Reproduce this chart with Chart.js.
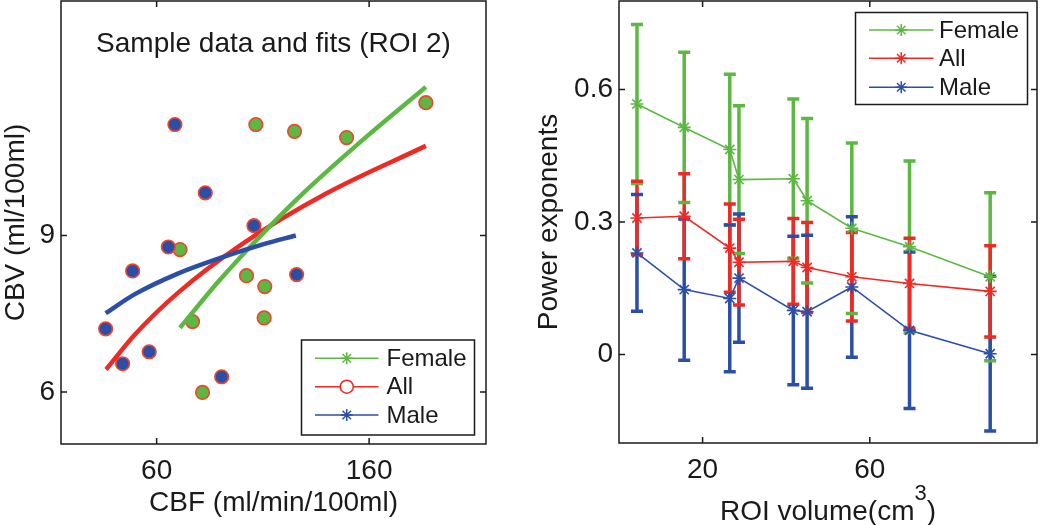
<!DOCTYPE html>
<html>
<head>
<meta charset="utf-8">
<script src="https://cdn.jsdelivr.net/npm/chart.js@4.4.1/dist/chart.umd.min.js"></script>
<style>
  html, body { margin: 0; padding: 0; background: #fff; }
  #wrap { position: relative; width: 1050px; height: 525px; overflow: hidden; }
  canvas { position: absolute; top: 0; }
</style>
</head>
<body>
<div id="wrap">
  <canvas id="fitChart" width="520" height="525" style="left:0"></canvas>
  <canvas id="expChart" width="530" height="525" style="left:520px"></canvas>
</div>
<script>
// ── LEFT PANEL DATA: CBF vs CBV (ROI 2) ──
const cbfFemale = [106.7, 124.9, 149.4, 186.7, 71.0, 102.3, 110.9, 110.6, 76.9, 81.6];
const cbvFemale = [11.13, 11.0, 10.88, 11.55, 8.73, 8.23, 8.02, 7.42, 7.35, 5.99];
const cbfMale   = [68.6, 82.9, 105.8, 65.5, 48.7, 125.9, 36.0, 56.5, 44.0, 90.6];
const cbvMale   = [11.13, 9.82, 9.19, 8.78, 8.32, 8.25, 7.21, 6.77, 6.54, 6.29];

// fit curves
const fitFemaleX = [71, 90, 110, 130, 160, 186.7];
const fitFemaleY = [7.23, 8.16, 9.04, 9.85, 10.94, 11.85];
const fitAllX    = [36.2, 50, 70, 100, 140, 186.7];
const fitAllY    = [6.43, 7.11, 7.90, 8.83, 9.81, 10.72];
const fitMaleX   = [36, 50, 70, 90, 110, 125.5];
const fitMaleY   = [7.51, 7.88, 8.27, 8.57, 8.83, 9.0];

const leftXTicks = [60, 160];
const leftYTicks = [6, 9];

// ── RIGHT PANEL DATA: power exponents vs ROI volume ──
const roiVolume = [4.3, 15.6, 26.5, 28.7, 41.7, 45.0, 55.7, 69.5, 88.8];
const expFemale = [0.567, 0.514, 0.464, 0.396, 0.398, 0.348, 0.286, 0.244, 0.176];
const errFemale = [0.18, 0.17, 0.17, 0.167, 0.18, 0.186, 0.193, 0.194, 0.19];
const expAll    = [0.309, 0.313, 0.241, 0.209, 0.211, 0.197, 0.176, 0.161, 0.143];
const errAll    = [0.083, 0.096, 0.10, 0.097, 0.097, 0.102, 0.10, 0.102, 0.103];
const expMale   = [0.230, 0.147, 0.127, 0.173, 0.100, 0.097, 0.153, 0.055, 0.002];
const errMale   = [0.132, 0.16, 0.166, 0.145, 0.168, 0.173, 0.159, 0.177, 0.175];

const rightXTicks = [20, 60];
const rightYTicks = [0, 0.3, 0.6];

const GREEN = '#5cb843';
const RED   = '#ee2a24';
const BLUE  = '#2b4ea6';
const INK   = '#1a1a1a';
const FONT  = '"Liberation Sans", Arial, Helvetica, sans-serif';

const pairs = (xs, ys) => xs.map((x, i) => ({ x: x, y: ys[i] }));

// ── SHARED DRAW HELPERS ──
function drawStar(ctx, x, y, r, color, lw) {
  ctx.save();
  ctx.strokeStyle = color;
  ctx.lineWidth = lw;
  ctx.beginPath();
  for (let k = 0; k < 4; k++) {
    const a = k * Math.PI / 4;
    ctx.moveTo(x - r * Math.cos(a), y - r * Math.sin(a));
    ctx.lineTo(x + r * Math.cos(a), y + r * Math.sin(a));
  }
  ctx.stroke();
  ctx.restore();
}

function drawLegend(ctx, box, items) {
  ctx.save();
  ctx.fillStyle = '#fff';
  ctx.fillRect(box.x, box.y, box.w, box.h);
  ctx.strokeStyle = INK;
  ctx.lineWidth = 1.5;
  ctx.strokeRect(box.x, box.y, box.w, box.h);
  ctx.font = '24px ' + FONT;
  ctx.textBaseline = 'middle';
  ctx.textAlign = 'left';
  items.forEach((it, i) => {
    const y = box.rows[i];
    ctx.strokeStyle = it.color;
    ctx.lineWidth = 1.5;
    ctx.beginPath();
    ctx.moveTo(box.lineFrom, y);
    ctx.lineTo(box.lineTo, y);
    ctx.stroke();
    const mx = (box.lineFrom + box.lineTo) / 2;
    if (it.marker === 'circle') {
      ctx.fillStyle = '#fff';
      ctx.beginPath();
      ctx.arc(mx, y, 6.5, 0, Math.PI * 2);
      ctx.fill();
      ctx.stroke();
    } else {
      drawStar(ctx, mx, y, 6, it.color, 1.5);
    }
    ctx.fillStyle = INK;
    ctx.fillText(it.label, box.textX, y + 1);
  });
  ctx.restore();
}

// box, inward tick marks and axis titles, Matlab style
function framePlugin(cfg) {
  return {
    id: 'frame_' + cfg.name,
    afterDraw(chart) {
      const { ctx, chartArea: a, scales } = chart;
      ctx.save();
      ctx.strokeStyle = INK;
      ctx.lineWidth = 1.5;
      ctx.strokeRect(a.left, a.top, a.right - a.left, a.bottom - a.top);
      ctx.beginPath();
      scales.x.ticks.forEach(t => {
        const px = scales.x.getPixelForValue(t.value);
        ctx.moveTo(px, a.bottom); ctx.lineTo(px, a.bottom - 6);
        ctx.moveTo(px, a.top);    ctx.lineTo(px, a.top + 6);
      });
      scales.y.ticks.forEach(t => {
        const py = scales.y.getPixelForValue(t.value);
        ctx.moveTo(a.left, py);  ctx.lineTo(a.left + 6, py);
        ctx.moveTo(a.right, py); ctx.lineTo(a.right - 6, py);
      });
      ctx.stroke();

      ctx.fillStyle = INK;
      ctx.font = '28px ' + FONT;
      ctx.textBaseline = 'alphabetic';

      // y title, rotated
      ctx.save();
      ctx.translate(cfg.yTitleX, (a.top + a.bottom) / 2);
      ctx.rotate(-Math.PI / 2);
      ctx.textAlign = 'center';
      ctx.fillText(cfg.yTitle, 0, 0);
      ctx.restore();

      // x title (optional superscript)
      const cx = (a.left + a.right) / 2;
      if (cfg.xSup) {
        ctx.font = '28px ' + FONT;
        const w1 = ctx.measureText(cfg.xTitle).width;
        const w3 = ctx.measureText(cfg.xTail).width;
        ctx.font = '22px ' + FONT;
        const w2 = ctx.measureText(cfg.xSup).width;
        let x0 = cx - (w1 + w2 + w3) / 2;
        ctx.textAlign = 'left';
        ctx.font = '28px ' + FONT;
        ctx.fillText(cfg.xTitle, x0, cfg.xTitleY);
        ctx.font = '22px ' + FONT;
        ctx.fillText(cfg.xSup, x0 + w1, cfg.xTitleY - 20);
        ctx.font = '28px ' + FONT;
        ctx.fillText(cfg.xTail, x0 + w1 + w2, cfg.xTitleY);
      } else {
        ctx.textAlign = 'center';
        ctx.fillText(cfg.xTitle, cx, cfg.xTitleY);
      }

      if (cfg.title) {
        ctx.textAlign = 'center';
        ctx.font = '28px ' + FONT;
        ctx.fillText(cfg.title, cx, cfg.titleY);
      }
      ctx.restore();

      if (cfg.legend) drawLegend(ctx, cfg.legend.box, cfg.legend.items);
    }
  };
}

function axes(xMin, xMax, xTicks, yMin, yMax, yTicks, yWidth, xHeight) {
  const tickFont = { family: FONT, size: 28 };
  return {
    x: {
      type: 'linear', min: xMin, max: xMax,
      afterBuildTicks: s => { s.ticks = xTicks.map(v => ({ value: v })); },
      afterFit: s => { s.height = xHeight; s.paddingLeft = 0; s.paddingRight = 0; },
      grid: { display: false, drawTicks: false },
      border: { display: false },
      ticks: { color: INK, font: tickFont, padding: 10, maxRotation: 0, callback: v => String(v) }
    },
    y: {
      type: 'linear', min: yMin, max: yMax,
      afterBuildTicks: s => { s.ticks = yTicks.map(v => ({ value: v })); },
      afterFit: s => { s.width = yWidth; s.paddingTop = 0; s.paddingBottom = 0; },
      grid: { display: false, drawTicks: false },
      border: { display: false },
      ticks: { color: INK, font: tickFont, padding: 6, callback: v => String(v) }
    }
  };
}

// ── LEFT: SAMPLE DATA AND FITS ──
function initFitChart() {
  const ctx = document.getElementById('fitChart');

  const fitLine = (data, color, order) => ({
    type: 'line', data: data, borderColor: color, borderWidth: 4.5,
    pointRadius: 0, cubicInterpolationMode: 'monotone', fill: false, order: order
  });
  const dots = (data, color, order) => ({
    type: 'line', data: data, showLine: false,
    pointStyle: 'circle', pointRadius: 6.8, pointHoverRadius: 6.8,
    pointBackgroundColor: color, pointBorderColor: '#f0452c', pointBorderWidth: 1.6,
    order: order
  });

  new Chart(ctx, {
    type: 'line',
    data: {
      datasets: [
        fitLine(pairs(fitFemaleX, fitFemaleY), GREEN, 1),
        fitLine(pairs(fitAllX, fitAllY), RED, 2),
        fitLine(pairs(fitMaleX, fitMaleY), BLUE, 0),
        dots(pairs(cbfFemale, cbvFemale), GREEN, 5),
        dots(pairs(cbfMale, cbvMale), BLUE, 4)
      ]
    },
    options: {
      responsive: false, animation: false, devicePixelRatio: 1,
      layout: { autoPadding: false, padding: { left: 0, right: 34, top: 1, bottom: 0 } },
      plugins: { legend: { display: false }, tooltip: { enabled: false } },
      scales: axes(15, 215, leftXTicks, 5, 13.5, leftYTicks, 61, 81)
    },
    plugins: [framePlugin({
      name: 'fit',
      yTitle: 'CBV (ml/100ml)', yTitleX: 24,
      xTitle: 'CBF (ml/min/100ml)', xTitleY: 511,
      title: 'Sample data and fits (ROI 2)', titleY: 52,
      legend: {
        box: { x: 301.5, y: 340, w: 173, h: 95, rows: [358.3, 386.7, 415], lineFrom: 315, lineTo: 378.5, textX: 386.5 },
        items: [
          { label: 'Female', color: GREEN, marker: 'star' },
          { label: 'All', color: RED, marker: 'circle' },
          { label: 'Male', color: BLUE, marker: 'star' }
        ]
      }
    })]
  });
}

// ── RIGHT: POWER EXPONENTS WITH ERROR BARS ──
const errorBarPlugin = {
  id: 'errorBars',
  beforeDatasetsDraw(chart) {
    const { ctx, scales: { x, y } } = chart;
    const series = [
      { v: expFemale, e: errFemale, c: GREEN },
      { v: expMale,   e: errMale,   c: BLUE },
      { v: expAll,    e: errAll,    c: RED }
    ];
    ctx.save();
    ctx.lineWidth = 3.5;
    ctx.lineCap = 'butt';
    series.forEach(s => {
      ctx.strokeStyle = s.c;
      ctx.beginPath();
      roiVolume.forEach((vol, i) => {
        const px = x.getPixelForValue(vol);
        ctx.moveTo(px, y.getPixelForValue(s.v[i] + s.e[i]));
        ctx.lineTo(px, y.getPixelForValue(s.v[i] - s.e[i]));
      });
      ctx.stroke();
    });
    series.forEach(s => {
      ctx.strokeStyle = s.c;
      ctx.beginPath();
      roiVolume.forEach((vol, i) => {
        const px = x.getPixelForValue(vol);
        [s.v[i] + s.e[i], s.v[i] - s.e[i]].forEach(val => {
          const py = y.getPixelForValue(val);
          ctx.moveTo(px - 6, py);
          ctx.lineTo(px + 6, py);
        });
      });
      ctx.stroke();
    });
    ctx.restore();
  }
};

function initExpChart() {
  const ctx = document.getElementById('expChart');

  const series = (label, data, color) => ({
    label: label, data: data, borderColor: color, backgroundColor: color,
    borderWidth: 1.6, pointStyle: 'star', pointRadius: 6.5, pointHoverRadius: 6.5,
    pointBorderColor: color, pointBorderWidth: 1.6, tension: 0, fill: false
  });

  new Chart(ctx, {
    type: 'line',
    data: {
      datasets: [
        series('Female', pairs(roiVolume, expFemale), GREEN),
        series('All', pairs(roiVolume, expAll), RED),
        series('Male', pairs(roiVolume, expMale), BLUE)
      ]
    },
    options: {
      responsive: false, animation: false, devicePixelRatio: 1,
      layout: { autoPadding: false, padding: { left: 0, right: 13, top: 1, bottom: 0 } },
      plugins: { legend: { display: false }, tooltip: { enabled: false } },
      scales: axes(0, 100, rightXTicks, -0.2, 0.8, rightYTicks, 99, 82)
    },
    plugins: [errorBarPlugin, framePlugin({
      name: 'exp',
      yTitle: 'Power exponents', yTitleX: 37,
      xTitle: 'ROI volume(cm', xSup: '3', xTail: ')', xTitleY: 520,
      legend: {
        box: { x: 335.5, y: 12.5, w: 172, h: 92, rows: [30, 58.3, 87.3], lineFrom: 349, lineTo: 413.5, textX: 419 },
        items: [
          { label: 'Female', color: GREEN, marker: 'star' },
          { label: 'All', color: RED, marker: 'star' },
          { label: 'Male', color: BLUE, marker: 'star' }
        ]
      }
    })]
  });
}

// ── INIT ──
initFitChart();
initExpChart();
</script>
</body>
</html>
